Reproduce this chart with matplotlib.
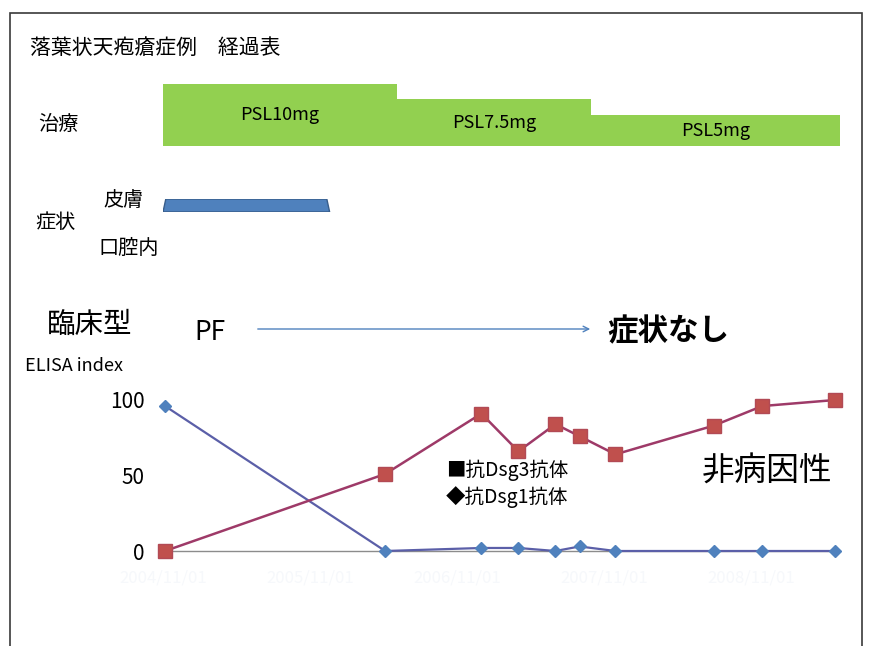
import matplotlib
matplotlib.use("Agg")
import matplotlib.dates as mdates
import matplotlib.pyplot as plt
import pandas as pd
from matplotlib.patches import FancyArrowPatch, Polygon, Rectangle

plt.rcParams["font.family"] = ["Noto Sans CJK JP", "DejaVu Sans"]

W, H = 869, 646

# ELISA index over time
sample_dates = ["2004-11-06", "2006-05-07", "2007-01-01", "2007-04-03", "2007-07-04",
                "2007-09-02", "2007-11-30", "2008-07-31", "2008-11-29", "2009-05-29"]
dsg3_index = [0, 51, 91, 66, 84, 76, 64, 83, 96, 100]
dsg1_index = [96, 0, 2, 2, 0, 3, 0, 0, 0, 0]

# prednisolone steps
psl_labels = ["PSL10mg", "PSL7.5mg", "PSL5mg"]
psl_dose = [10, 7.5, 5]
psl_start = ["2004-11-01", "2006-06-05", "2007-10-01"]
psl_end = ["2006-06-05", "2007-10-01", "2009-06-10"]

# skin lesions period
skin_start = "2004-11-01"
skin_end = "2005-12-20"

x_ticks = ["2004-11-01", "2005-11-01", "2006-11-01", "2007-11-01", "2008-11-01"]
y_ticks = [0, 50, 100]
x_range = ["2004-11-01", "2009-06-10"]


def dn(s):
    return mdates.date2num(pd.Timestamp(s))


def fx(px):
    return px / W


def fy(py):
    return 1 - py / H


fig = plt.figure(figsize=(W / 100, H / 100), dpi=100)
fig.patch.set_facecolor("white")

L, R = 163, 840
xlim = (dn(x_range[0]), dn(x_range[1]))

# frame
fig.add_artist(Rectangle((fx(10), fy(700)), fx(852), 700 / H - 13 / H, transform=fig.transFigure,
                         fill=False, edgecolor="#3a3a3a", lw=1.2))

# treatment bars
ax_tx = fig.add_axes([fx(L), fy(146), fx(R - L), (146 - 84) / H])
ax_tx.set_xlim(xlim)
ax_tx.set_ylim(0, 10)
ax_tx.axis("off")
for lab, dose, s, e in zip(psl_labels, psl_dose, psl_start, psl_end):
    ax_tx.bar(dn(s), dose, width=dn(e) - dn(s), align="edge", color="#92d050", edgecolor="none")
    ax_tx.text((dn(s) + dn(e)) / 2, dose / 2, lab, ha="center", va="center", fontsize=13)

# symptom bar
ax_sx = fig.add_axes([fx(L), fy(212), fx(R - L), 13 / H])
ax_sx.set_xlim(xlim)
ax_sx.set_ylim(0, 1)
ax_sx.axis("off")
inset = 7
ax_sx.add_patch(Polygon([(dn(skin_start), 0), (dn(skin_end), 0), (dn(skin_end) - inset, 1),
                         (dn(skin_start) + inset, 1)], closed=True,
                        facecolor="#4f81bd", edgecolor="#385d8a", lw=1))

# ELISA chart
ax = fig.add_axes([fx(L), fy(551), fx(R - L), (551 - 400) / H])
ax.set_xlim(xlim)
ax.set_ylim(0, 100)
xd = [dn(d) for d in sample_dates]
ax.plot(xd, dsg1_index, color="#5b5fa8", lw=1.6, marker="D", ms=6.5,
        mfc="#4f81bd", mec="#4f81bd", zorder=3, clip_on=False)
ax.plot(xd, dsg3_index, color="#9e3a68", lw=1.8, marker="s", ms=9.5,
        mfc="#c0504d", mec="#b24a55", zorder=4, clip_on=False)
for sp in ["top", "right", "left"]:
    ax.spines[sp].set_visible(False)
ax.spines["bottom"].set_color("#8c8c8c")
ax.spines["bottom"].set_linewidth(1)
ax.set_yticks(y_ticks)
ax.set_yticklabels([str(v) for v in y_ticks], fontsize=15)
ax.tick_params(axis="y", length=0, pad=13)
ax.set_xticks([dn(d) for d in x_ticks])
ax.set_xticklabels([pd.Timestamp(d).strftime("%Y/%m/%d") for d in x_ticks],
                   fontsize=12, color="#f6f8fb")
ax.tick_params(axis="x", length=0, pad=13)
ax.patch.set_alpha(0)

# texts
fig.text(fx(30), fy(48), "落葉状天疱瘡症例　経過表", fontsize=15, va="center", ha="left")
fig.text(fx(38), fy(125), "治療", fontsize=14.5, va="center", ha="left")
fig.text(fx(103), fy(200), "皮膚", fontsize=14.5, va="center", ha="left")
fig.text(fx(35), fy(222), "症状", fontsize=14.5, va="center", ha="left")
fig.text(fx(98), fy(248), "口腔内", fontsize=14.5, va="center", ha="left")
fig.text(fx(47), fy(325), "臨床型", fontsize=20.5, va="center", ha="left")
fig.text(fx(194), fy(332), "PF", fontsize=19, va="center", ha="left")
fig.text(fx(607), fy(331), "症状なし", fontsize=22, va="center", ha="left", fontweight="bold")
fig.text(fx(25), fy(366), "ELISA index", fontsize=13, va="center", ha="left")
fig.text(fx(446), fy(470), "■抗Dsg3抗体", fontsize=14, va="center", ha="left")
fig.text(fx(446), fy(497), "◆抗Dsg1抗体", fontsize=14, va="center", ha="left")
fig.text(fx(702), fy(472), "非病因性", fontsize=23.5, va="center", ha="left")

fig.add_artist(FancyArrowPatch((fx(255), fy(329)), (fx(593), fy(329)), transform=fig.transFigure,
                               arrowstyle="->", mutation_scale=10, color="#4f81bd", lw=1))

fig.savefig("out.png", dpi=100)
